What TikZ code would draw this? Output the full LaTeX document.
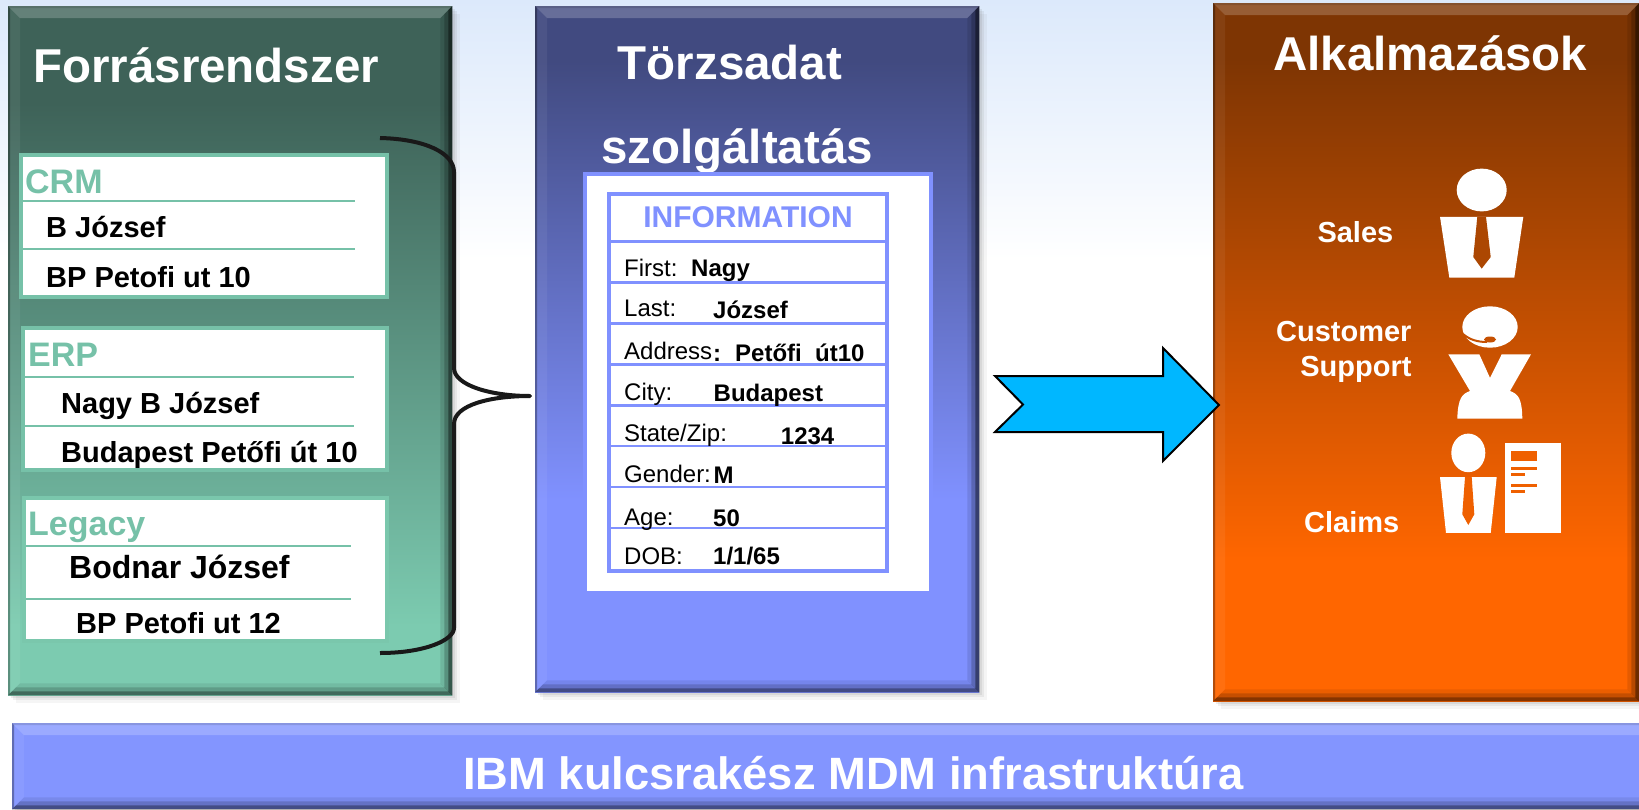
\documentclass[tikz,border=0pt]{standalone}
\usepackage{fontspec}
\setmainfont{Liberation Sans}
\usetikzlibrary{calc, positioning, shadows}

\definecolor{greentop}{HTML}{3E6258}
\definecolor{greenlow}{HTML}{7CCBB0}
\definecolor{bluetop}{HTML}{414A80}
\definecolor{bluelow}{HTML}{8091FF}
\definecolor{orangetop}{HTML}{7E3503}
\definecolor{orangelow}{HTML}{FF6600}
\definecolor{mint}{HTML}{76C1A8}
\definecolor{barblue}{HTML}{8395FF}
\definecolor{arrowblue}{HTML}{00B7FF}
\definecolor{skyblue}{HTML}{DCE9FB}

\pgfdeclareverticalshading{greenfade}{100bp}{color(0bp)=(greenlow); color(30bp)=(greenlow); color(68bp)=(greentop); color(100bp)=(greentop)}
\pgfdeclareverticalshading{bluefade}{100bp}{color(0bp)=(bluelow); color(39bp)=(bluelow); color(71bp)=(bluetop); color(100bp)=(bluetop)}
\pgfdeclareverticalshading{orangefade}{100bp}{color(0bp)=(orangelow); color(35bp)=(orangelow); color(71bp)=(orangetop); color(100bp)=(orangetop)}

\tikzset{
    panel/.style={rectangle, anchor=north west, inner sep=0pt,
        drop shadow={shadow xshift=3pt, shadow yshift=-3pt, opacity=.14},
        drop shadow={shadow xshift=5pt, shadow yshift=-5pt, opacity=.12},
        drop shadow={shadow xshift=8pt, shadow yshift=-8pt, opacity=.08}},
    title/.style={anchor=base west, inner sep=0pt, white, font=\fontsize{47.5}{50}\selectfont\bfseries},
    applabel/.style={anchor=base west, inner sep=0pt, white, font=\fontsize{29}{32}\selectfont\bfseries},
    rec/.style={anchor=base west, inner sep=0pt, font=\fontsize{29}{32}\selectfont\bfseries},
    srchead/.style={anchor=base west, inner sep=0pt, mint, font=\fontsize{34}{36}\selectfont\bfseries},
    srcbox/.style={rectangle, anchor=north west, inner sep=0pt, fill=white, draw=mint, line width=4pt},
    srcline/.style={mint, line width=1.5pt},
    field/.style={anchor=base west, inner sep=0pt, font=\fontsize{24}{26}\selectfont},
    value/.style={anchor=base west, inner sep=0pt, font=\fontsize{24}{26}\selectfont\bfseries},
    rowline/.style={bluelow, line width=2.5pt},
    icon/.style={fill=white},
}

% light and dark rims of a panel
\newcommand{\panelrim}[1]{
    \fill[white, opacity=.2] (#1.north west) -- (#1.north east) -- ($(#1.north east)+(-12,12)$) -- ($(#1.north west)+(12,12)$) -- cycle;
    \fill[black, opacity=.12] (#1.north west) -- (#1.north east) -- ($(#1.north east)+(-2,2)$) -- ($(#1.north west)+(2,2)$) -- cycle;
    \fill[white, opacity=.06] (#1.north west) -- ($(#1.north west)+(12,12)$) -- ($(#1.south west)+(12,-12)$) -- (#1.south west) -- cycle;
    \fill[black, opacity=.3] (#1.north west) -- ($(#1.north west)+(2,2)$) -- ($(#1.south west)+(2,-2)$) -- (#1.south west) -- cycle;
    \foreach \rim/\shadeval in {12/.1, 8/.2, 4/.4} {
        \fill[black, opacity=\shadeval] (#1.north east) -- ($(#1.north east)+(-\rim,\rim)$) -- ($(#1.south east)+(-\rim,-\rim)$) -- (#1.south east) -- cycle;
        \fill[black, opacity=\shadeval*.8] (#1.south west) -- ($(#1.south west)+(\rim,-\rim)$) -- ($(#1.south east)+(-\rim,-\rim)$) -- (#1.south east) -- cycle;
    }
}

\begin{document}
\begin{tikzpicture}[x=1pt, y=-1pt]
    \useasboundingbox (0,0) rectangle (1639,809);
    \shade[top color=skyblue, bottom color=white, middle color=skyblue!50!white] (0,0) rectangle (1639,260);

    % the three columns
    \node[panel, shade, shading=greenfade, minimum width=444pt, minimum height=689pt] (source) at (8,6) {};
    \node[panel, shade, shading=bluefade, minimum width=444pt, minimum height=686pt] (master) at (535,6) {};
    \node[panel, shade, shading=orangefade, minimum width=426pt, minimum height=698pt] (apps) at (1213,3) {};
    \panelrim{source}
    \panelrim{master}
    \panelrim{apps}

    \node[panel, fill=barblue, minimum width=1650pt, minimum height=86pt] (infra) at (12,723) {};
    \panelrim{infra}
    \node[inner sep=0pt, white, font=\fontsize{45.3}{48}\selectfont\bfseries, anchor=base] (infratext) at (853.5,789) {IBM kulcsrakész MDM infrastruktúra};

    \node[title] (sourcetitle) at (33,82) {Forrásrendszer};
    \node[title, anchor=base] (mastertitle) at (730,79) {Törzsadat};
    \node[title, anchor=base] (mastertitleb) at (737,163) {szolgáltatás};
    \node[title] (appstitle) at (1273,70) {Alkalmazások};

    % source systems
    \node[srcbox, minimum width=366pt, minimum height=142pt] (crm) at (18.6,153) {};
    \node[srcbox, minimum width=363.4pt, minimum height=142pt] (erp) at (21.4,326) {};
    \node[srcbox, draw=greenlow!96!greentop, minimum width=363pt, minimum height=143pt] (legacy) at (22,496) {};

    \node[srchead] (crmhead) at (25,193) {CRM};
    \draw[srcline] (23,201) -- (355,201);
    \node[rec] (crmname) at (46,237) {B József};
    \draw[srcline] (23,249) -- (355,249);
    \node[rec] (crmaddr) at (46,287) {BP Petofi ut 10};

    \node[srchead] (erphead) at (28,366) {ERP};
    \draw[srcline] (25,377) -- (354,377);
    \node[rec] (erpname) at (61,413) {Nagy B József};
    \draw[srcline] (25,426) -- (354,426);
    \node[rec] (erpaddr) at (61,462) {Budapest Petőfi út 10};

    \node[srchead] (legacyhead) at (28,535) {Legacy};
    \draw[srcline] (26,546) -- (351,546);
    \node[rec, font=\fontsize{32}{34}\selectfont\bfseries] (legacyname) at (69,578) {Bodnar József};
    \draw[srcline] (26,599) -- (351,599);
    \node[rec] (legacyaddr) at (76,633) {BP Petofi ut 12};

    % brace from the sources to the master record
    \coordinate (bracetop) at (380,138);
    \coordinate (braceend) at (380,653);
    \coordinate (bracetip) at (530,396);
    \draw[line width=4pt, black!90, line join=round] (bracetop) .. controls (425,139) and (454,153) .. (454,172)
        -- (454,368) .. controls (454,385) and (490,396) .. (bracetip)
        .. controls (490,396) and (454,405) .. (454,424)
        -- (454,628) .. controls (454,640) and (425,653) .. (braceend);

    % master record
    \node[srcbox, draw=bluelow, minimum width=346pt, minimum height=419pt] (recbox) at (583,172) {};
    \node[srcbox, draw=bluelow, minimum width=278pt, minimum height=377pt] (rectable) at (607,192) {};
    \node[anchor=base, inner sep=0pt, bluelow, font=\fontsize{30}{32}\selectfont\bfseries] (rechead) at (748,227) {INFORMATION};
    \foreach \ypos in {241.7, 282.3, 323.3, 364.3, 405.3, 446, 487, 528}
        \draw[rowline] (609,\ypos) -- (887,\ypos);

    \node[field] (first) at (624,276.5) {First:};
    \node[field] (last) at (624,316.5) {Last:};
    \node[field] (address) at (624,359.5) {Address};
    \node[field] (city) at (624,400) {City:};
    \node[field] (state) at (624,441.5) {State/Zip:};
    \node[field] (gender) at (624,482.5) {Gender:};
    \node[field] (age) at (624,525) {Age:};
    \node[field] (dob) at (624,564.5) {DOB:};

    \node[value] (firstval) at (691,276.5) {Nagy};
    \node[value] (lastval) at (713,318) {József};
    \node[value] (addrcolon) at (713,361) {:};
    \node[value] (addrval) at (735,361) {Petőfi};
    \node[value] (addrvalb) at (815,361) {út10};
    \node[value] (cityval) at (713.5,401) {Budapest};
    \node[value] (stateval) at (780.7,444.5) {1234};
    \node[value] (genderval) at (713.5,483.5) {M};
    \node[value] (ageval) at (713,526) {50};
    \node[value] (dobval) at (713,564.5) {1/1/65};

    % big arrow
    \draw[fill=arrowblue, line width=2pt, line join=miter] (995,376) -- (1163,376) -- (1163,348) -- (1219,405) -- (1163,461) -- (1163,432) -- (995,432) -- (1023,404.5) -- cycle;

    % applications
    \node[applabel] (sales) at (1317.3,242.9) {Sales};
    \node[applabel, anchor=base east] (customer) at (1411.7,341) {Customer};
    \node[applabel, anchor=base east] (support) at (1411.7,376.8) {Support};
    \node[applabel] (claims) at (1304,532) {Claims};

    % sales icon
    \fill[icon] (1481.7,190) ellipse (25 and 21.4);
    \fill[icon] (1440,216.8) -- (1523.3,216.8) -- (1514.3,277.5) -- (1449.3,277.5) -- cycle;
    \fill[orangetop!64!orangelow] (1477.3,216.8) -- (1486,216.8) -- (1490.7,257) -- (1481.7,268.6) -- (1473.3,257) -- cycle;

    % support icon
    \fill[icon] (1490,327) ellipse (27.7 and 20.7);
    \draw[orangetop!44!orangelow, line width=2pt] (1463,334) .. controls (1470,340) and (1478,342) .. (1487,342);
    \fill[orangetop!44!orangelow] (1490,339.5) ellipse (6 and 3);
    \fill[icon] (1448.3,354.3) -- (1479.3,354.3) -- (1490,377.9) -- (1501.7,354.3) -- (1531,354.3) -- (1510,391)
        .. controls (1518,394) and (1522,398) .. (1522.3,418.6) -- (1457.3,418.6) .. controls (1458,398) and (1462,394) .. (1470,391) -- cycle;

    % claims icon
    \fill[icon] (1468.3,452.9) ellipse (17 and 19.3);
    \fill[icon] (1440,477.1) -- (1496.7,477.1) -- (1490.7,532.9) -- (1446,532.9) -- cycle;
    \fill[orangetop!12!orangelow] (1465,477.1) -- (1471.7,477.1) -- (1474.3,514.3) -- (1468.3,525) -- (1462.3,514.3) -- cycle;
    \fill[icon] (1505,442.9) rectangle (1561.3,532.9);
    \fill[orangetop!12!orangelow] (1511,450.7) rectangle (1536.7,461.4);
    \fill[orangetop!12!orangelow] (1511,467.1) rectangle (1536.7,469.6);
    \fill[orangetop!12!orangelow] (1511,472.9) rectangle (1525,475.7);
    \fill[orangetop!12!orangelow] (1511,484.3) rectangle (1536.7,486.8);
    \fill[orangetop!12!orangelow] (1511,490.4) rectangle (1525,492.9);
\end{tikzpicture}
\end{document}
